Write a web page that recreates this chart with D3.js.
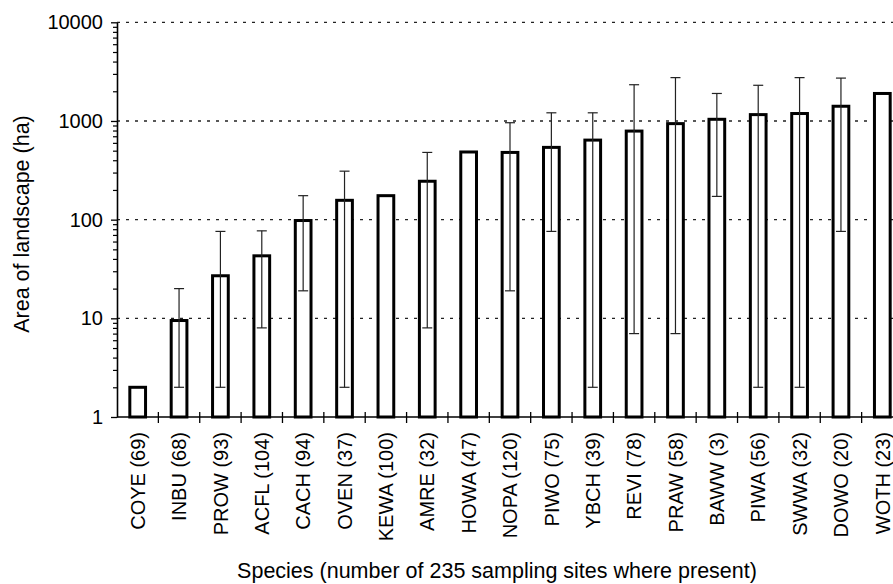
<!DOCTYPE html>
<html>
<head>
<meta charset="utf-8">
<script src="https://cdn.jsdelivr.net/npm/d3@7"></script>
<style>
  body { margin: 0; background: #fff; }
  svg { display: block; }
  text { font-family: "Liberation Sans", Arial, Helvetica, sans-serif; fill: #000; }
</style>
</head>
<body>
<svg id="chart" width="893" height="584"></svg>
<script>
// Species codes and the number of sampling sites where each was present
const species = ["COYE","INBU","PROW","ACFL","CACH","OVEN","KEWA","AMRE","HOWA","NOPA",
                 "PIWO","YBCH","REVI","PRAW","BAWW","PIWA","SWWA","DOWO","WOTH"];
const sites   = [69, 68, 93, 104, 94, 37, 100, 32, 47, 120, 75, 39, 78, 58, 3, 56, 32, 20, 23];

// Area of landscape (ha) per species, with lower / upper range (null = no range)
const area    = [2, 9.5, 27, 43, 98, 157, 175, 245, 485, 480, 540, 640, 790, 940, 1040, 1160, 1190, 1410, 1900];
const errLow  = [null, 2, 2, 8, 19, 2, null, 8, null, 19, 76, 2, 7, 7, 172, 2, 2, 76, null];
const errHigh = [null, 20, 76, 77, 175, 310, null, 480, null, 960, 1210, 1210, 2330, 2750, 1900, 2300, 2750, 2720, null];

// Axis ticks
const yTicks = [1, 10, 100, 1000, 10000];
const yTickLabels = ["1", "10", "100", "1000", "10000"];
const gridValues = [10, 100, 1000, 10000];

const W = 893, H = 584;
const plotL = 117, plotR = 903, plotT = 22.3, plotB = 417;

const svg = d3.select("#chart");

const x = d3.scaleBand().domain(species).range([plotL, plotR]).padding(0);
const y = d3.scaleLog().domain([1, 10000]).range([plotB, plotT]);
const bw = x.bandwidth();
const barW = bw * 0.38;

// Dotted horizontal gridlines at each decade
svg.append("g").selectAll("line")
  .data(gridValues)
  .join("line")
  .attr("x1", plotL).attr("x2", W)
  .attr("y1", d => y(d)).attr("y2", d => y(d))
  .attr("stroke", "#222")
  .attr("stroke-width", 1.3)
  .attr("stroke-dasharray", "3,6");

// Bars (white fill, heavy black outline) rising from 1 ha
const rows = species.map((s, i) => ({ s, v: area[i], lo: errLow[i], hi: errHigh[i] }));

svg.append("g").selectAll("rect")
  .data(rows)
  .join("rect")
  .attr("x", d => x(d.s) + (bw - barW) / 2)
  .attr("width", barW)
  .attr("y", d => y(d.v))
  .attr("height", d => plotB - y(d.v))
  .attr("fill", "#fff")
  .attr("stroke", "#000")
  .attr("stroke-width", 3);

// Range bars with caps
const eb = svg.append("g").selectAll("g")
  .data(rows.filter(d => d.lo !== null))
  .join("g")
  .attr("stroke", "#222")
  .attr("stroke-width", 1.2);
const cap = 5;
eb.append("line")
  .attr("x1", d => x(d.s) + bw / 2).attr("x2", d => x(d.s) + bw / 2)
  .attr("y1", d => y(d.lo)).attr("y2", d => y(d.hi));
eb.append("line")
  .attr("x1", d => x(d.s) + bw / 2 - cap).attr("x2", d => x(d.s) + bw / 2 + cap)
  .attr("y1", d => y(d.hi)).attr("y2", d => y(d.hi));
eb.append("line")
  .attr("x1", d => x(d.s) + bw / 2 - cap).attr("x2", d => x(d.s) + bw / 2 + cap)
  .attr("y1", d => y(d.lo)).attr("y2", d => y(d.lo));

// Y axis: major ticks with labels
const yAxis = svg.append("g")
  .attr("transform", `translate(${plotL},0)`)
  .call(d3.axisLeft(y)
    .tickValues(yTicks)
    .tickFormat((d, i) => yTickLabels[i])
    .tickSizeInner(6)
    .tickSizeOuter(0)
    .tickPadding(8));
yAxis.select(".domain").attr("stroke", "#000").attr("stroke-width", 1.6);
yAxis.selectAll(".tick line").attr("stroke", "#000").attr("stroke-width", 1.3);
yAxis.selectAll(".tick text").attr("font-size", 20).attr("font-family", "Liberation Sans, Arial, sans-serif");

// Y axis: minor log ticks
const minor = [];
for (let k = 0; k < 4; k++) for (let m = 2; m <= 9; m++) minor.push(m * Math.pow(10, k));
const yMinor = svg.append("g")
  .attr("transform", `translate(${plotL},0)`)
  .call(d3.axisLeft(y).tickValues(minor).tickFormat("").tickSizeInner(4).tickSizeOuter(0));
yMinor.select(".domain").remove();
yMinor.selectAll(".tick line").attr("stroke", "#000").attr("stroke-width", 1.2);

// X axis: category labels, rotated
const xAxis = svg.append("g")
  .attr("transform", `translate(0,${plotB})`)
  .call(d3.axisBottom(x)
    .tickFormat((d, i) => `${d} (${sites[i]})`)
    .tickSize(0));
xAxis.select(".domain").attr("stroke", "#000").attr("stroke-width", 1.6)
  .attr("d", `M${plotL},0H${W}`);
xAxis.selectAll(".tick text")
  .attr("font-size", 20)
  .attr("font-family", "Liberation Sans, Arial, sans-serif")
  .attr("transform", "rotate(-90)")
  .attr("text-anchor", "end")
  .attr("x", -15)
  .attr("y", 0)
  .attr("dy", "0.36em");

// Tick marks on category boundaries, crossing the axis
svg.append("g").selectAll("line")
  .data(species.slice(1))
  .join("line")
  .attr("x1", d => x(d)).attr("x2", d => x(d))
  .attr("y1", plotB - 5).attr("y2", plotB + 6)
  .attr("stroke", "#000")
  .attr("stroke-width", 1.3);

// Axis titles
svg.append("text")
  .attr("transform", `translate(21,224) rotate(-90)`)
  .attr("text-anchor", "middle")
  .attr("dy", "0.36em")
  .attr("font-size", 21.5)
  .text("Area of landscape (ha)");

svg.append("text")
  .attr("x", 497)
  .attr("y", 578)
  .attr("text-anchor", "middle")
  .attr("font-size", 21.5)
  .text("Species (number of 235 sampling sites where present)");
</script>
</body>
</html>
